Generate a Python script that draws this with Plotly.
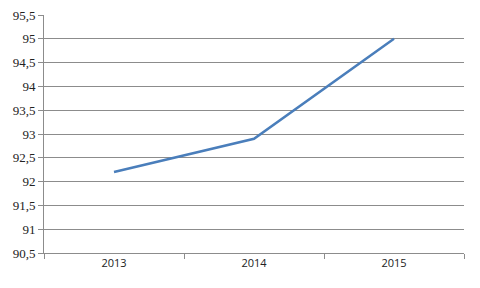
import plotly.graph_objects as go

years = ["2013", "2014", "2015"]
values = [92.2, 92.9, 95.0]
y_ticks = [90.5, 91, 91.5, 92, 92.5, 93, 93.5, 94, 94.5, 95, 95.5]

fig = go.Figure()
fig.add_trace(go.Scatter(x=years, y=values, mode="lines",
                         line=dict(color="#4a7ebb", width=2.5)))

fig.update_layout(
    width=480, height=288,
    margin=dict(l=44, r=16, t=15, b=35, autoexpand=False),
    paper_bgcolor="white", plot_bgcolor="white",
    separators=", ",
    showlegend=False,
    xaxis=dict(type="category", tickson="boundaries", ticks="outside",
               ticklen=5, tickcolor="#8c8c8c", showgrid=False,
               showline=True, linecolor="#8c8c8c", linewidth=1,
               automargin=False,
               tickfont=dict(family="Open Sans", size=11, color="#222"),
               range=[-0.5, 2.5]),
    yaxis=dict(range=[90.5, 95.5], tickvals=y_ticks, ticks="outside",
               ticklen=5, tickcolor="#8c8c8c", showgrid=True,
               gridcolor="#8c8c8c", gridwidth=1, zeroline=False,
               showline=True, linecolor="#8c8c8c", linewidth=1,
               automargin=False,
               tickfont=dict(family="Liberation Serif", size=13, color="#222")),
)
fig.write_html("out.html")
